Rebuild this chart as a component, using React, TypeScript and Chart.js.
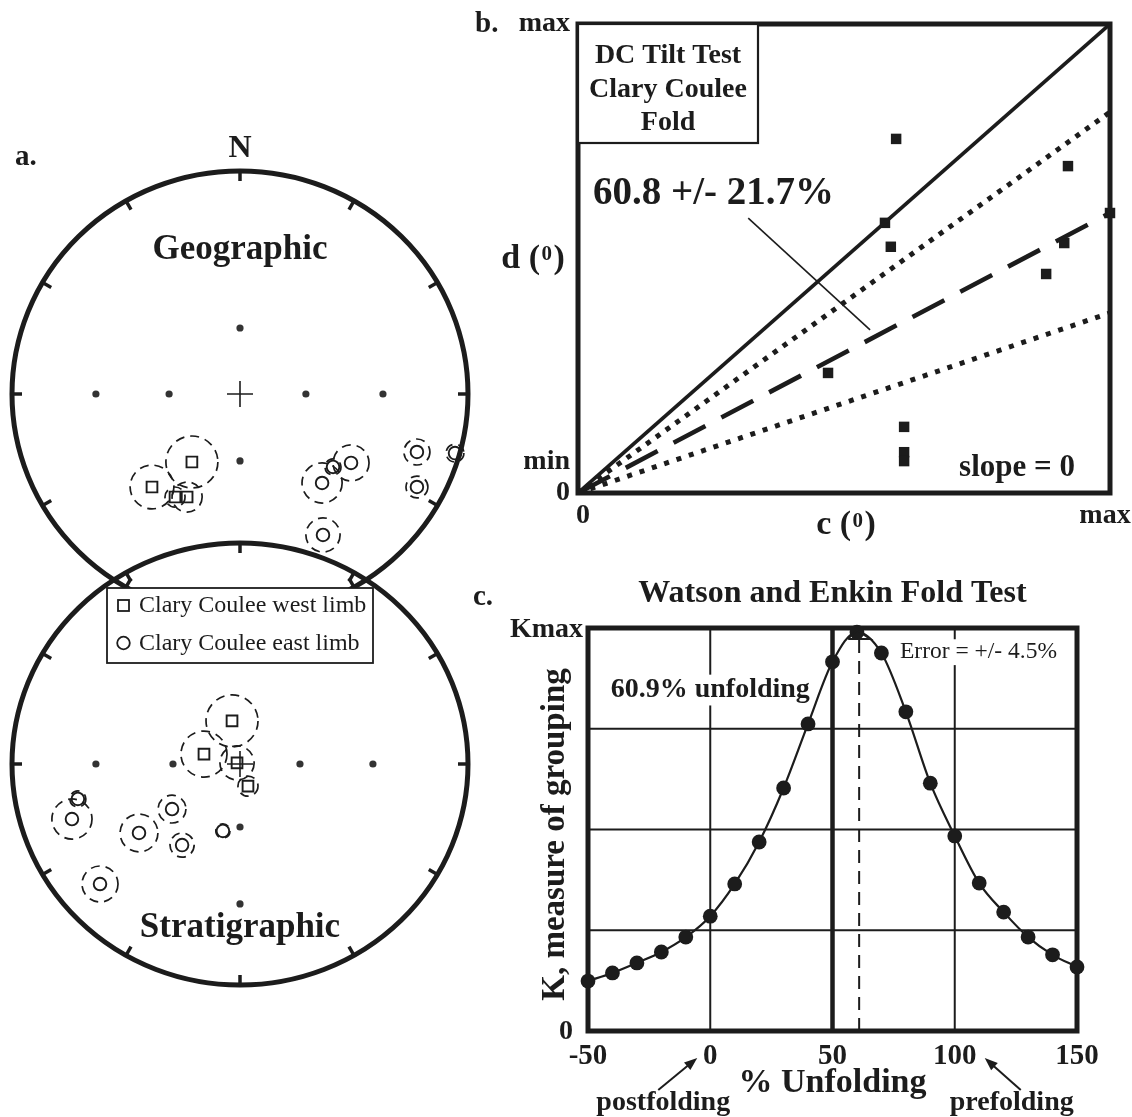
import React, { useEffect, useRef } from "react";
import { Chart, registerables } from "chart.js";

Chart.register(...registerables);

const SERIF = '"Liberation Serif", "Times New Roman", Times, serif';
const INK = "#1c1c1c";

// ---------------- Panel a: stereonets (units of net radius, x = east, y = north) ----------------
const geoWest = [
  { x: -0.211, y: -0.305, a: 0.114 },
  { x: -0.386, y: -0.417, a: 0.096 },
  { x: -0.285, y: -0.462, a: 0.044 },
  { x: -0.232, y: -0.462, a: 0.066 },
];
const geoEast = [
  { x: 0.360, y: -0.399, a: 0.088 },
  { x: 0.408, y: -0.327, a: 0.035 },
  { x: 0.487, y: -0.309, a: 0.079 },
  { x: 0.776, y: -0.260, a: 0.057 },
  { x: 0.776, y: -0.417, a: 0.048 },
  { x: 0.943, y: -0.265, a: 0.039 },
  { x: 0.364, y: -0.632, a: 0.075 },
];
const geoGrid = [
  { x: -0.632, y: 0 }, { x: -0.311, y: 0 }, { x: 0.289, y: 0 }, { x: 0.627, y: 0 },
  { x: 0, y: 0.296 }, { x: 0, y: -0.300 },
];
const stratWest = [
  { x: -0.035, y: 0.195, a: 0.114 },
  { x: -0.158, y: 0.045, a: 0.101 },
  { x: -0.013, y: 0.005, a: 0.075 },
  { x: 0.035, y: -0.100, a: 0.044 },
];
const stratEast = [
  { x: -0.711, y: -0.158, a: 0.035 },
  { x: -0.737, y: -0.249, a: 0.088 },
  { x: -0.443, y: -0.312, a: 0.083 },
  { x: -0.298, y: -0.204, a: 0.061 },
  { x: -0.254, y: -0.367, a: 0.053 },
  { x: -0.075, y: -0.303, a: 0.031 },
  { x: -0.614, y: -0.543, a: 0.079 },
];
const stratGrid = [
  { x: -0.632, y: 0 }, { x: -0.294, y: 0 }, { x: 0.263, y: 0 }, { x: 0.583, y: 0 },
  { x: 0, y: -0.285 }, { x: 0, y: -0.633 },
];
const legendLabels = ["Clary Coulee west limb", "Clary Coulee east limb"];

// ---------------- Panel b: DC tilt test (normalised c, d) ----------------
const tiltC = [0.598, 0.921, 0.577, 0.588, 1.0, 0.914, 0.880, 0.470, 0.613, 0.613, 0.613];
const tiltD = [0.755, 0.697, 0.576, 0.525, 0.597, 0.533, 0.467, 0.256, 0.141, 0.087, 0.068];
const tiltLineSlopes = [1.0, 0.812, 0.597, 0.384]; // solid, upper bound, best fit, lower bound
const tiltLeader = [{ x: 0.320, y: 0.586 }, { x: 0.549, y: 0.348 }];
const tiltXTicks = [0, 1];
const tiltXTickLabels = ["0", "max"];
const tiltYTicks = [0, 0.066, 1];
const tiltYTickLabels = ["0", "min", "max"];

// ---------------- Panel c: Watson & Enkin fold test ----------------
const unfoldPct = [-50, -40, -30, -20, -10, 0, 10, 20, 30, 40, 50, 60, 70, 80, 90, 100, 110, 120, 130, 140, 150];
const kappa = [0.124, 0.144, 0.169, 0.196, 0.233, 0.285, 0.365, 0.469, 0.603, 0.762, 0.916, 0.99, 0.938, 0.792, 0.615, 0.484, 0.367, 0.295, 0.233, 0.189, 0.159];
const bestUnfold = 60.9;
const unfoldError = 4.5;
const unfoldTicks = [-50, 0, 50, 100, 150];
const unfoldGridX = [0, 50, 100];
const kGridY = [0.25, 0.5, 0.75];

// ---------------- helpers ----------------
function txt(ctx: any, s: string, x: number, y: number, size: number, o: any = {}) {
  ctx.save();
  ctx.font = `${o.bold === false ? "" : "bold "}${size}px ${SERIF}`;
  ctx.fillStyle = INK;
  ctx.textAlign = o.align || "center";
  ctx.textBaseline = o.baseline || "middle";
  if (o.bg) {
    const w = ctx.measureText(s).width;
    let lx = x;
    if (ctx.textAlign === "center") lx = x - w / 2;
    else if (ctx.textAlign === "right") lx = x - w;
    ctx.fillStyle = "#fff";
    ctx.fillRect(lx - 4, y - size * 0.55, w + 8, size * 1.1);
    ctx.fillStyle = INK;
  }
  ctx.fillText(s, x, y);
  ctx.restore();
}

function axisSymbol(ctx: any, letter: string, cx: number, cy: number, size: number) {
  ctx.save();
  const big = `bold ${size}px ${SERIF}`;
  const small = `bold ${Math.round(size * 0.62)}px ${SERIF}`;
  ctx.fillStyle = INK;
  ctx.textBaseline = "alphabetic";
  ctx.textAlign = "left";
  ctx.font = big;
  const a = letter + " (";
  const wa = ctx.measureText(a).width;
  const wc = ctx.measureText(")").width;
  ctx.font = small;
  const wb = ctx.measureText("0").width + 3;
  let x = cx - (wa + wb + wc) / 2;
  const base = cy + size * 0.33;
  ctx.font = big;
  ctx.fillText(a, x, base);
  x += wa;
  ctx.font = small;
  ctx.fillText("0", x + 1.5, base - size * 0.22);
  x += wb;
  ctx.font = big;
  ctx.fillText(")", x, base);
  ctx.restore();
}

function arrow(ctx: any, x0: number, y0: number, x1: number, y1: number) {
  const ang = Math.atan2(y1 - y0, x1 - x0);
  const L = 13, W = 5;
  ctx.save();
  ctx.strokeStyle = INK;
  ctx.fillStyle = INK;
  ctx.lineWidth = 2;
  ctx.beginPath();
  ctx.moveTo(x0, y0);
  ctx.lineTo(x1 - Math.cos(ang) * L * 0.8, y1 - Math.sin(ang) * L * 0.8);
  ctx.stroke();
  ctx.beginPath();
  ctx.moveTo(x1, y1);
  ctx.lineTo(x1 - Math.cos(ang) * L - Math.sin(ang) * W, y1 - Math.sin(ang) * L + Math.cos(ang) * W);
  ctx.lineTo(x1 - Math.cos(ang) * L + Math.sin(ang) * W, y1 - Math.sin(ang) * L - Math.cos(ang) * W);
  ctx.closePath();
  ctx.fill();
  ctx.restore();
}

// ---------------- plugins ----------------
const netPlugin: any = {
  id: "net",
  beforeDatasetsDraw(chart: any, _a: any, opts: any) {
    const { ctx } = chart;
    const xs = chart.scales.x, ys = chart.scales.y;
    const cx = xs.getPixelForValue(0), cy = ys.getPixelForValue(0);
    const rx = xs.getPixelForValue(1) - cx, ry = cy - ys.getPixelForValue(1);
    ctx.save();
    ctx.strokeStyle = INK;
    ctx.lineWidth = 1.7;
    ctx.setLineDash([9, 6]);
    chart.data.datasets.forEach((ds: any) => {
      if (!ds.errorCircles) return;
      ds.data.forEach((p: any) => {
        ctx.beginPath();
        ctx.arc(xs.getPixelForValue(p.x), ys.getPixelForValue(p.y), p.a * rx, 0, Math.PI * 2);
        ctx.stroke();
      });
    });
    ctx.setLineDash([]);
    ctx.lineWidth = 5;
    ctx.beginPath();
    ctx.ellipse(cx, cy, rx, ry, 0, 0, Math.PI * 2);
    ctx.stroke();
    ctx.lineWidth = 3.5;
    for (let k = 0; k < 12; k++) {
      const t = (k * Math.PI) / 6;
      const s = Math.sin(t), c = Math.cos(t);
      ctx.beginPath();
      ctx.moveTo(cx + s * rx, cy - c * ry);
      ctx.lineTo(cx + s * (rx - 10), cy - c * (ry - 10));
      ctx.stroke();
    }
    ctx.restore();
  },
  afterDatasetsDraw(chart: any, _a: any, opts: any) {
    const { ctx } = chart;
    const xs = chart.scales.x, ys = chart.scales.y;
    const cx = xs.getPixelForValue(0), cy = ys.getPixelForValue(0);
    const ry = cy - ys.getPixelForValue(1);
    const rx = xs.getPixelForValue(1) - cx;
    txt(ctx, opts.title, cx, cy + opts.titleDy * ry, 35);
    if (opts.north) {
      txt(ctx, "N", cx, cy - ry - 22, 32);
      txt(ctx, "a.", cx - rx + 3, cy - ry - 13, 29, { align: "left" });
    }
    if (opts.legend) {
      const L = cx - 133, T = cy - 176, W = 266, H = 75;
      ctx.save();
      ctx.fillStyle = "#fff";
      ctx.fillRect(L, T, W, H);
      ctx.strokeStyle = INK;
      ctx.lineWidth = 1.8;
      ctx.strokeRect(L, T, W, H);
      ctx.strokeRect(L + 11, T + 12, 11, 11);
      ctx.beginPath();
      ctx.arc(L + 16.5, T + 55, 6.3, 0, Math.PI * 2);
      ctx.stroke();
      ctx.restore();
      txt(ctx, chart.data.datasets[2].label, L + 32, T + 18, 24, { bold: false, align: "left" });
      txt(ctx, chart.data.datasets[3].label, L + 32, T + 56, 24, { bold: false, align: "left" });
    }
  },
};

const tiltPlugin: any = {
  id: "tilt",
  afterDatasetsDraw(chart: any) {
    const { ctx, chartArea: a } = chart;
    const xs = chart.scales.x, ys = chart.scales.y;
    ctx.save();
    ctx.strokeStyle = INK;
    ctx.lineWidth = 5;
    ctx.strokeRect(a.left, a.top, a.right - a.left, a.bottom - a.top);
    ctx.fillStyle = "#fff";
    ctx.fillRect(a.left, a.top, 180, 119);
    ctx.lineWidth = 2.2;
    ctx.strokeRect(a.left, a.top, 180, 119);
    ctx.restore();
    txt(ctx, "DC Tilt Test", a.left + 90, a.top + 32, 28);
    txt(ctx, "Clary Coulee", a.left + 90, a.top + 66, 28);
    txt(ctx, "Fold", a.left + 90, a.top + 99, 28);
    txt(ctx, "60.8 +/- 21.7%", a.left + 15, a.top + 170, 39, { align: "left" });
    txt(ctx, "slope = 0", a.right - 93, a.bottom - 25, 31);
    txt(ctx, "b.", a.left - 103, a.top + 1, 29, { align: "left" });
    tiltYTicks.forEach((v, i) => {
      txt(ctx, tiltYTickLabels[i], a.left - 8, ys.getPixelForValue(v), 28, { align: "right" });
    });
    tiltXTicks.forEach((v, i) => {
      const px = Math.min(Math.max(xs.getPixelForValue(v), a.left + 5), a.right - 5);
      txt(ctx, tiltXTickLabels[i], px, a.bottom + 23, 28);
    });
    axisSymbol(ctx, "d", a.left - 45, (a.top + a.bottom) / 2 - 2, 34);
    axisSymbol(ctx, "c", (a.left + a.right) / 2 + 2, a.bottom + 30, 34);
  },
};

const foldPlugin: any = {
  id: "fold",
  beforeDatasetsDraw(chart: any) {
    const { ctx, chartArea: a } = chart;
    const xs = chart.scales.x, ys = chart.scales.y;
    ctx.save();
    ctx.strokeStyle = INK;
    unfoldGridX.forEach((v) => {
      ctx.lineWidth = v === 50 ? 4.5 : 2;
      const px = xs.getPixelForValue(v);
      ctx.beginPath();
      ctx.moveTo(px, a.top);
      ctx.lineTo(px, a.bottom);
      ctx.stroke();
    });
    ctx.lineWidth = 2;
    kGridY.forEach((v) => {
      const py = ys.getPixelForValue(v);
      ctx.beginPath();
      ctx.moveTo(a.left, py);
      ctx.lineTo(a.right, py);
      ctx.stroke();
    });
    ctx.restore();
    txt(ctx, "60.9% unfolding", xs.getPixelForValue(0), ys.getPixelForValue(0.846), 28, { bg: true });
    txt(ctx, `Error = +/- ${unfoldError}%`, xs.getPixelForValue(77.6), ys.getPixelForValue(0.94), 23.5, { bold: false, align: "left", bg: true });
  },
  afterDatasetsDraw(chart: any) {
    const { ctx, chartArea: a } = chart;
    const xs = chart.scales.x;
    ctx.save();
    ctx.strokeStyle = INK;
    ctx.lineWidth = 5;
    ctx.strokeRect(a.left, a.top, a.right - a.left, a.bottom - a.top);
    ctx.restore();
    txt(ctx, "c.", a.left - 115, a.top - 30, 29, { align: "left" });
    txt(ctx, "Watson and Enkin Fold Test", (a.left + a.right) / 2, a.top - 34, 32);
    txt(ctx, "Kmax", a.left - 5, a.top + 2, 28, { align: "right" });
    txt(ctx, "0", a.left - 15, a.bottom + 1, 28, { align: "right" });
    unfoldTicks.forEach((v) => txt(ctx, String(v), xs.getPixelForValue(v), a.bottom + 26, 29));
    txt(ctx, "% Unfolding", (a.left + a.right) / 2, a.bottom + 52, 34);
    txt(ctx, "postfolding", xs.getPixelForValue(0) - 47, a.bottom + 72, 28);
    txt(ctx, "prefolding", xs.getPixelForValue(100) + 57, a.bottom + 72, 28);
    const p0 = xs.getPixelForValue(0), p100 = xs.getPixelForValue(100);
    arrow(ctx, p0 - 52, a.bottom + 59, p0 - 13, a.bottom + 27);
    arrow(ctx, p100 + 66, a.bottom + 59, p100 + 30, a.bottom + 27);
    ctx.save();
    ctx.translate(a.left - 33, (a.top + a.bottom) / 2 + 5);
    ctx.rotate(-Math.PI / 2);
    txt(ctx, "K, measure of grouping", 0, 0, 33);
    ctx.restore();
  },
};

// ---------------- chart configs ----------------
const NET_XR = 240 / 228;

function baseOptions(padding: any, x: any, y: any, extra: any = {}) {
  return {
    responsive: false,
    animation: false,
    devicePixelRatio: 1,
    events: [],
    layout: { padding, autoPadding: false },
    plugins: { legend: { display: false }, tooltip: { enabled: false }, ...extra },
    scales: {
      x: { type: "linear", display: false, ...x },
      y: { type: "linear", display: false, ...y },
    },
  };
}

function netConfig(west: any[], east: any[], grid: any[], ymin: number, ymax: number, opts: any) {
  return {
    type: "scatter",
    data: {
      datasets: [
        { label: "grid", data: grid, pointStyle: "circle", pointRadius: 3.6, backgroundColor: "#333", borderWidth: 0, clip: false },
        { label: "centre", data: [{ x: 0, y: 0 }], pointStyle: "cross", pointRadius: 13, borderColor: INK, borderWidth: 1.6, clip: false },
        { label: legendLabels[0], data: west, pointStyle: "rect", pointRadius: 7.6, borderColor: INK, borderWidth: 1.9, backgroundColor: "rgba(0,0,0,0)", errorCircles: true, clip: false },
        { label: legendLabels[1], data: east, pointStyle: "circle", pointRadius: 6.3, borderColor: INK, borderWidth: 1.9, backgroundColor: "rgba(0,0,0,0)", errorCircles: true, clip: false },
      ],
    },
    options: baseOptions(0, { min: -NET_XR, max: NET_XR }, { min: ymin, max: ymax }, { net: opts }),
    plugins: [netPlugin],
  };
}

function tiltConfig() {
  const styles = [
    { borderWidth: 3.6, borderDash: [] },
    { borderWidth: 5, borderDash: [5, 7] },
    { borderWidth: 4.6, borderDash: [36, 18] },
    { borderWidth: 5, borderDash: [5, 8] },
  ];
  const lineSets = tiltLineSlopes.map((s, i) => ({
    label: "line" + i,
    data: [{ x: 0, y: 0 }, { x: 1, y: s }],
    showLine: true,
    pointRadius: 0,
    borderColor: INK,
    borderCapStyle: "butt",
    borderWidth: styles[i].borderWidth,
    borderDash: styles[i].borderDash,
  }));
  return {
    type: "scatter",
    data: {
      datasets: [
        ...lineSets,
        { label: "leader", data: tiltLeader, showLine: true, pointRadius: 0, borderColor: INK, borderWidth: 1.6 },
        {
          label: "sites",
          data: tiltC.map((c, i) => ({ x: c, y: tiltD[i] })),
          pointStyle: "rect",
          pointRadius: 7.4,
          backgroundColor: INK,
          borderColor: INK,
          borderWidth: 0,
          clip: false,
        },
      ],
    },
    options: baseOptions({ left: 108, right: 22, top: 24, bottom: 52 }, { min: 0, max: 1 }, { min: 0, max: 1 }),
    plugins: [tiltPlugin],
  };
}

function foldConfig() {
  const lo = bestUnfold - unfoldError, hi = bestUnfold + unfoldError;
  return {
    type: "scatter",
    data: {
      datasets: [
        {
          label: "peak",
          data: [{ x: bestUnfold, y: 0 }, { x: bestUnfold, y: 0.973 }],
          showLine: true,
          pointRadius: 0,
          borderColor: INK,
          borderWidth: 2,
          borderDash: [13, 8],
        },
        {
          label: "error",
          data: [{ x: lo, y: 0.973 }, { x: hi, y: 0.973 }, { x: bestUnfold - 1, y: 0.995 }, { x: lo, y: 0.973 }],
          showLine: true,
          pointRadius: 0,
          borderColor: INK,
          borderWidth: 2,
          clip: false,
        },
        {
          label: "kappa",
          data: unfoldPct.map((u, i) => ({ x: u, y: kappa[i] })),
          showLine: true,
          cubicInterpolationMode: "monotone",
          borderColor: INK,
          borderWidth: 2.2,
          pointRadius: 7.4,
          pointStyle: "circle",
          pointBackgroundColor: INK,
          pointBorderColor: INK,
          pointBorderWidth: 0,
          clip: false,
        },
      ],
    },
    options: baseOptions({ left: 118, right: 55, top: 68, bottom: 86 }, { min: -50, max: 150 }, { min: 0, max: 1 }),
    plugins: [foldPlugin],
  };
}

function ChartBox(props: { left: number; top: number; width: number; height: number; make: () => any }) {
  const ref = useRef<HTMLCanvasElement>(null);
  useEffect(() => {
    const chart = new Chart(ref.current as any, props.make());
    return () => chart.destroy();
  }, []);
  return (
    <canvas
      ref={ref}
      width={props.width}
      height={props.height}
      style={{ position: "absolute", left: props.left, top: props.top, width: props.width, height: props.height, display: "block" }}
    />
  );
}

export default function App() {
  return (
    <div style={{ position: "absolute", left: 0, top: 0, width: 1132, height: 1117, background: "#fff", overflow: "hidden" }}>
      <ChartBox
        left={0}
        top={120}
        width={480}
        height={520}
        make={() => netConfig(geoWest, geoEast, geoGrid, -246 / 223, 274 / 223, { title: "Geographic", titleDy: -0.646, north: true, legend: false })}
      />
      <ChartBox
        left={0}
        top={520}
        width={480}
        height={490}
        make={() => netConfig(stratWest, stratEast, stratGrid, -246 / 221, 244 / 221, { title: "Stratigraphic", titleDy: 0.742, north: false, legend: true })}
      />
      <ChartBox left={470} top={0} width={662} height={545} make={tiltConfig} />
      <ChartBox left={470} top={560} width={662} height={557} make={foldConfig} />
    </div>
  );
}
